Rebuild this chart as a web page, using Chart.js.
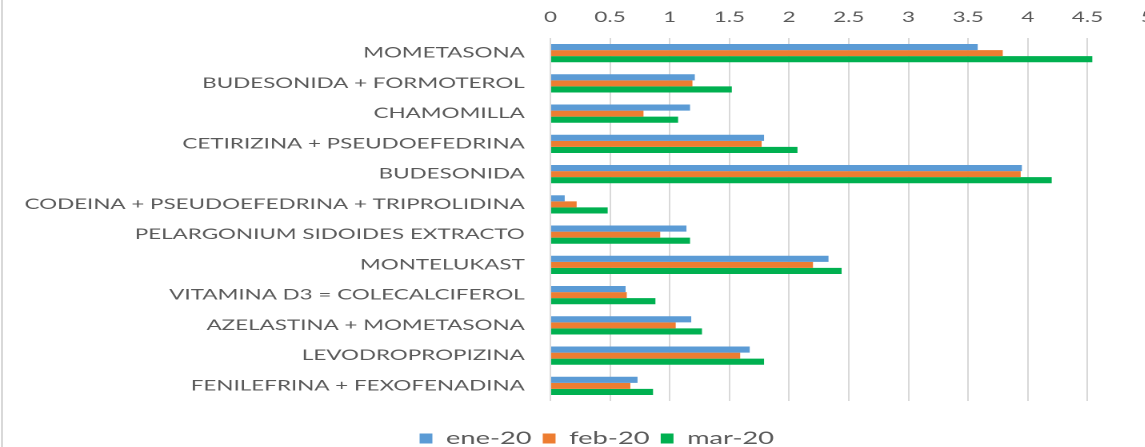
<!DOCTYPE html>
<html>
<head>
<meta charset="utf-8">
<script src="https://cdn.jsdelivr.net/npm/chart.js@4/dist/chart.umd.min.js"></script>
<style>
  html, body { margin: 0; padding: 0; background: #fff; overflow: hidden; width: 1145px; height: 447px; }
  #frame { position: absolute; left: 1px; top: 0; width: 0; height: 447px; border-left: 2px solid #d9d9d9; }
  #wrap { position: absolute; left: 0; top: 0; width: 717px; height: 457px; transform: scaleX(1.6); transform-origin: 0 0; }
</style>
</head>
<body>
<div id="frame"></div>
<div id="wrap"><canvas id="chart"></canvas></div>
<script>
const labels = [
  "MOMETASONA",
  "BUDESONIDA + FORMOTEROL",
  "CHAMOMILLA",
  "CETIRIZINA + PSEUDOEFEDRINA",
  "BUDESONIDA",
  "CODEINA + PSEUDOEFEDRINA + TRIPROLIDINA",
  "PELARGONIUM SIDOIDES EXTRACTO",
  "MONTELUKAST",
  "VITAMINA D3 = COLECALCIFEROL",
  "AZELASTINA + MOMETASONA",
  "LEVODROPROPIZINA",
  "FENILEFRINA + FEXOFENADINA"
];
const ene20 = [3.58, 1.21, 1.17, 1.79, 3.95, 0.12, 1.14, 2.33, 0.63, 1.18, 1.67, 0.73];
const feb20 = [3.79, 1.19, 0.78, 1.77, 3.94, 0.22, 0.92, 2.20, 0.64, 1.05, 1.59, 0.67];
const mar20 = [4.54, 1.52, 1.07, 2.07, 4.20, 0.48, 1.17, 2.44, 0.88, 1.27, 1.79, 0.86];
const xTicks = [0, 0.5, 1, 1.5, 2, 2.5, 3, 3.5, 4, 4.5, 5];

const txt = "#595959";
const font = "Lato";

// the category labels are wider than the axis box; don't clip them
const unclipLabels = {
  id: "unclipLabels",
  afterLayout: c => { c.scales.y.left = 0; }
};

new Chart(document.getElementById("chart").getContext("2d"), {
  type: "bar",
  data: {
    labels: labels,
    datasets: [
      { label: "ene-20", data: ene20, backgroundColor: "#5B9BD5" },
      { label: "feb-20", data: feb20, backgroundColor: "#ED7D31" },
      { label: "mar-20", data: mar20, backgroundColor: "#00B050" }
    ]
  },
  options: {
    indexAxis: "y",
    responsive: true,
    maintainAspectRatio: false,
    devicePixelRatio: 2,
    animation: false,
    layout: { padding: { left: 29, right: 0, top: 0, bottom: 0 } },
    datasets: { bar: { categoryPercentage: 0.6, barPercentage: 1 } },
    scales: {
      x: {
        position: "top",
        min: 0,
        max: 5,
        afterBuildTicks: s => { s.ticks = xTicks.map(v => ({ value: v })); },
        afterFit: s => { s.height = 38; s.paddingRight = 0; s.paddingLeft = 0; },
        grid: { color: "#d9d9d9", lineWidth: 1, drawTicks: false },
        border: { display: false },
        ticks: { color: txt, font: { family: font, size: 14 }, padding: 12, maxRotation: 0,
                 callback: v => String(v) }
      },
      pad: {
        type: "linear",
        axis: "x",
        position: "bottom",
        display: true,
        afterFit: s => { s.height = 22; },
        grid: { display: false },
        border: { display: false },
        ticks: { display: false }
      },
      y: {
        afterFit: s => { s.width = 315; },
        grid: { display: false },
        border: { display: false },
        ticks: { color: txt, font: { family: font, size: 14 }, padding: 8, autoSkip: false }
      }
    },
    plugins: {
      legend: {
        display: true,
        position: "bottom",
        labels: { color: txt, font: { family: font, size: 17 }, boxWidth: 8, boxHeight: 10, padding: 7 }
      },
      tooltip: { enabled: false },
      title: { display: false }
    }
  },
  plugins: [unclipLabels]
});
</script>
</body>
</html>
